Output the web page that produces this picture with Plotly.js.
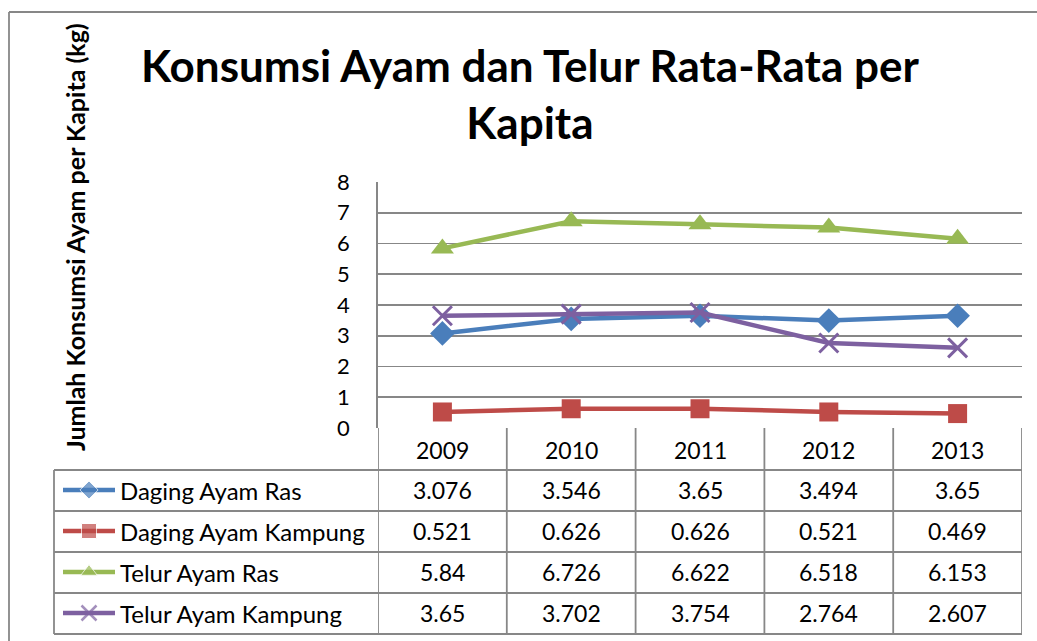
<!DOCTYPE html>
<html><head><meta charset="utf-8">
<script src="https://cdn.plot.ly/plotly-3.0.1.min.js"></script>
<style>html,body{margin:0;padding:0;background:#fff}#chart{width:1037px;height:641px}</style>
</head><body><div id="chart"></div>
<script>
const years = ['2009','2010','2011','2012','2013'];
const seriesNames = ['Daging Ayam Ras','Daging Ayam Kampung','Telur Ayam Ras','Telur Ayam Kampung'];
const dagingAyamRas = [3.076, 3.546, 3.65, 3.494, 3.65];
const dagingAyamKampung = [0.521, 0.626, 0.626, 0.521, 0.469];
const telurAyamRas = [5.84, 6.726, 6.622, 6.518, 6.153];
const telurAyamKampung = [3.65, 3.702, 3.754, 2.764, 2.607];
const valueLabels = [
  ['3.076','3.546','3.65','3.494','3.65'],
  ['0.521','0.626','0.626','0.521','0.469'],
  ['5.84','6.726','6.622','6.518','6.153'],
  ['3.65','3.702','3.754','2.764','2.607']
];
const yTicks = [0,1,2,3,4,5,6,7,8];

const W = 1037, H = 641;
const px = x => x / W;
const py = y => 1 - y / H;
const FONT = 'Lato, Carlito, Calibri, sans-serif';
const GRID = '#878787';

const styles = [
  {color:'#4a7ebb', symbol:'diamond', size:19, keySize:14},
  {color:'#be4b48', symbol:'square', size:19, keySize:15},
  {color:'#98b954', symbol:'triangle-up', size:20, keySize:15},
  {color:'#7d60a0', symbol:'x-thin', size:19, keySize:15}
];
const allSeries = [dagingAyamRas, dagingAyamKampung, telurAyamRas, telurAyamKampung];

const traces = [];
allSeries.forEach((vals, i) => {
  const s = styles[i];
  const marker = {symbol: s.symbol, size: s.size, color: s.color};
  if (s.symbol === 'x-thin') marker.line = {color: s.color, width: 3};
  traces.push({
    type:'scatter', mode:'lines+markers', name: seriesNames[i],
    x: years.map((_, k) => k), y: vals,
    line:{color: s.color, width: 4.5}, marker: marker,
    xaxis:'x', yaxis:'y', hoverinfo:'skip'
  });
});

// legend keys inside the data table (overlay pixel axes)
const rowCenters = [490, 531, 572, 613];
allSeries.forEach((vals, i) => {
  const s = styles[i];
  const marker = {symbol: s.symbol, size: [0, s.keySize, 0], color: s.color};
  if (s.symbol === 'x-thin') marker.line = {color: s.color, width: 2.5};
  traces.push({
    type:'scatter', mode:'lines+markers', showlegend:false,
    x:[63, 89, 115], y:[rowCenters[i], rowCenters[i], rowCenters[i]],
    line:{color: s.color, width: 4.5}, marker: marker,
    xaxis:'x2', yaxis:'y2', hoverinfo:'skip', cliponaxis:false
  });
});

const shapes = [];
const line = (x0,y0,x1,y1,xref,yref,w) => shapes.push({type:'line', x0, y0, x1, y1, xref:xref||'paper', yref:yref||'paper', line:{color:GRID, width:w||1.8}, layer:'below'});
// outer chart border
line(px(9), py(12), px(9), py(641));
line(px(9), py(12), px(1037), py(12));
// table horizontal lines
[470, 511, 552, 593, 634].forEach(y => line(px(54), py(y), px(1022), py(y)));
// table left border
line(px(54), py(470), px(54), py(634));
// category boundaries in table
[-0.5, 0.5, 1.5, 2.5, 3.5, 4.5].forEach(b => line(b, py(428), b, py(634), 'x', 'paper'));

const annotations = [];
annotations.push({
  text:'Konsumsi Ayam dan Telur Rata-Rata per<br>Kapita', xref:'paper', yref:'paper',
  x:px(530), y:py(94), showarrow:false, xanchor:'center', yanchor:'middle', align:'center',
  font:{family:FONT, size:44, color:'#000', weight:'bold'}
});
annotations.push({
  text:'Jumlah Konsumsi Ayam per Kapita (kg)', textangle:-90, xref:'paper', yref:'paper',
  x:px(75), y:py(237), showarrow:false, xanchor:'center', yanchor:'middle',
  font:{family:FONT, size:25, color:'#000', weight:'bold'}
});
years.forEach((yr, k) => annotations.push({
  text: yr, xref:'x', yref:'paper', x:k, y:py(450), showarrow:false, yanchor:'middle',
  font:{family:FONT, size:23, color:'#000'}
}));
seriesNames.forEach((nm, i) => {
  annotations.push({
    text: nm, xref:'paper', yref:'paper', x:px(118), y:py(rowCenters[i]), xanchor:'left', yanchor:'middle',
    showarrow:false, font:{family:FONT, size:24, color:'#000'}
  });
  valueLabels[i].forEach((v, k) => annotations.push({
    text: v, xref:'x', yref:'paper', x:k, y:py(rowCenters[i]), showarrow:false, yanchor:'middle',
    font:{family:FONT, size:23, color:'#000'}
  }));
});

const layout = {
  width: W, height: H,
  margin:{l:0, r:0, t:0, b:0},
  paper_bgcolor:'#ffffff', plot_bgcolor:'rgba(0,0,0,0)',
  showlegend:false,
  xaxis:{domain:[px(378), px(1022)], range:[-0.5, 4.5], showticklabels:false, showgrid:false, zeroline:false, ticks:'', showline:false, fixedrange:true},
  yaxis:{domain:[py(428), py(182)], range:[0, 8], tickvals:yTicks, ticktext:yTicks.map(String), showgrid:true, gridcolor:GRID, gridwidth:1.8,
    zeroline:false, showline:true, linecolor:GRID, linewidth:1.8, ticks:'', ticklabelstandoff:22,
    tickfont:{family:FONT, size:22, color:'#000'}, fixedrange:true},
  xaxis2:{domain:[0,1], range:[0, W], anchor:'y2', visible:false, fixedrange:true},
  yaxis2:{domain:[0,1], range:[H, 0], anchor:'x2', visible:false, fixedrange:true},
  shapes: shapes, annotations: annotations
};

Plotly.newPlot('chart', traces, layout, {displayModeBar:false, staticPlot:true});
</script>
</body></html>
